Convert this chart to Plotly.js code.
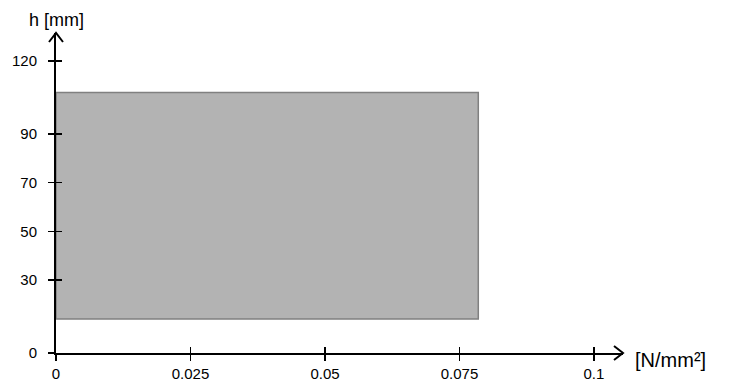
<!DOCTYPE html>
<html><head><meta charset="utf-8">
<script src="https://cdn.plot.ly/plotly-3.0.1.min.js"></script>
<style>html,body{margin:0;padding:0;background:#fff}</style>
</head><body><div id="chart" style="width:730px;height:383px"></div>
<script>
// data
var stressStart = 0;
var stressEnd = 0.0785;
var heightBottom = 14;
var heightTop = 107;
var xTickVals = [0, 0.025, 0.05, 0.075, 0.1];
var xTickText = ['0', '0.025', '0.05', '0.075', '0.1'];
var yTickVals = [0, 30, 50, 70, 90, 120];
var yTickText = ['0', '30', '50', '70', '90', '120'];
var xRange = [0, 0.1054];
var yRange = [0, 131.5];

var rect = {
  type: 'scatter', mode: 'lines',
  x: [stressStart, stressStart, stressEnd, stressEnd, stressStart],
  y: [heightBottom, heightTop, heightTop, heightBottom, heightBottom],
  fill: 'toself', fillcolor: '#b3b3b3',
  line: {color: '#808080', width: 1.5},
  hoverinfo: 'skip', showlegend: false
};
var dummy = {type:'scatter', mode:'none', x:[xRange[0]], y:[yRange[0]], xaxis:'x2', yaxis:'y2', showlegend:false, hoverinfo:'skip'};

var fam = 'Liberation Sans, Arial, sans-serif';
var font = {family: fam, size: 15, color: '#000'};
var axBase = {showgrid:false, zeroline:false, fixedrange:true};

var layout = {
  width: 730, height: 383,
  margin: {l:56, r:107, t:33, b:30},
  paper_bgcolor: '#fff', plot_bgcolor: '#fff',
  font: font,
  showlegend: false,
  xaxis: Object.assign({}, axBase, {
    range: xRange, showline: true, linecolor: '#000', linewidth: 2,
    tickmode: 'array', tickvals: xTickVals, ticktext: xTickText,
    ticks: 'outside', ticklen: 6, tickwidth: 1.5, tickcolor: '#000',
    tickfont: font
  }),
  yaxis: Object.assign({}, axBase, {
    range: yRange, showline: true, linecolor: '#000', linewidth: 2,
    tickmode: 'array', tickvals: yTickVals, ticktext: yTickText,
    ticks: 'outside', ticklen: 6, tickwidth: 1.5, tickcolor: '#000',
    tickfont: font, ticklabelstandoff: 8
  }),
  xaxis2: Object.assign({}, axBase, {
    range: xRange, overlaying: 'x', anchor: 'y2', showline: false,
    tickmode: 'array', tickvals: xTickVals, showticklabels: false,
    ticks: 'inside', ticklen: 6, tickwidth: 1.5, tickcolor: '#000'
  }),
  yaxis2: Object.assign({}, axBase, {
    range: yRange, overlaying: 'y', anchor: 'x2', side: 'left', showline: false,
    tickmode: 'array', tickvals: yTickVals, showticklabels: false,
    ticks: 'inside', ticklen: 6, tickwidth: 1.5, tickcolor: '#000'
  }),
  shapes: [
    {type:'path', xref:'paper', yref:'paper', xsizemode:'pixel', ysizemode:'pixel',
     xanchor: 1, yanchor: 0, path:'M-9,-7 L0,0 L-9,7',
     line:{color:'#000', width:2}},
    {type:'path', xref:'paper', yref:'paper', xsizemode:'pixel', ysizemode:'pixel',
     xanchor: 0, yanchor: 1, path:'M-7,-9 L0,0 L7,-9',
     line:{color:'#000', width:2}}
  ],
  annotations: [
    {text:'h [mm]', xref:'paper', yref:'paper', x:0, y:1, xanchor:'center', yanchor:'bottom',
     yshift: 1, showarrow:false, font:{family:fam, size:18, color:'#000'}},
    {text:'[N/mm²]', xref:'paper', yref:'paper', x:1, y:0, xanchor:'left', yanchor:'middle',
     xshift: 10, yshift: -7, showarrow:false, font:{family:fam, size:20, color:'#000'}}
  ]
};

Plotly.newPlot('chart', [rect, dummy], layout, {displayModeBar:false, staticPlot:true});
</script></body></html>
